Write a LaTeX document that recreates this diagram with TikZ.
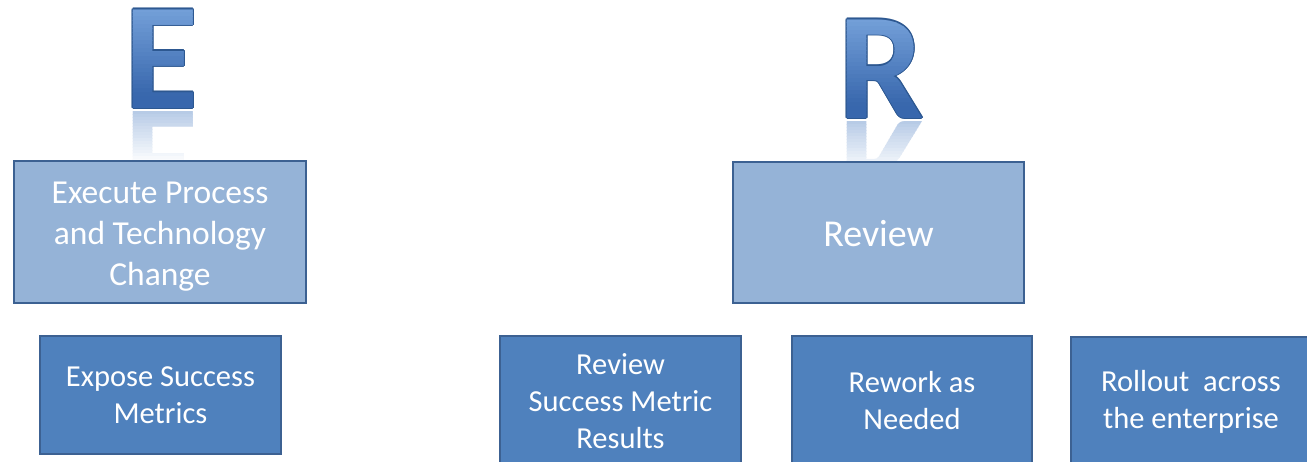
\documentclass[tikz,border=0pt]{standalone}
\usepackage{fontspec}
\setmainfont{Carlito}
\definecolor{lightbox}{HTML}{95B3D7}
\definecolor{darkbox}{HTML}{4F81BD}
\definecolor{boxline}{HTML}{3C6192}
\definecolor{lettertop}{HTML}{76A2DA}
\definecolor{letterbot}{HTML}{3867AD}
\definecolor{letteredge}{HTML}{2D5891}
\definecolor{reflcol}{HTML}{5F8CC8}
\tikzset{
  phasebox/.style={draw=boxline, line width=2.2pt, fill=lightbox, inner sep=0pt},
  phasetext/.style={text=white, align=center, inner sep=0pt},
  taskbox/.style={draw=boxline, line width=1.6pt, fill=darkbox, text=white,
    align=center, inner sep=0pt, minimum width=240pt, minimum height=130pt,
    font=\fontsize{30.5}{37}\selectfont},
  letterglyph/.style={font=\fontsize{152}{152}\bfseries\selectfont,
    inner sep=0pt, anchor=base, text height=97pt, text depth=0pt},
}
\begin{document}
\begin{tikzpicture}[x=1pt,y=-1pt]
  \useasboundingbox (0,0) rectangle (1307,461);
  \clip (0,0) rectangle (1307,461);
  \fill[white] (0,0) rectangle (1307,461);

  \foreach \ch/\cx/\base [count=\k] in {E/161.5/108, R/881/118} {
    % mirrored reflection, fading out towards the boxes
    \foreach \i in {0,...,17} {
      \pgfmathtruncatemacro\pct{max(0,45-\i*2.6)}
      \begin{scope}
        \clip (\cx-70,\base+3+\i*3) rectangle (\cx+70,\base+6.6+\i*3);
        \begin{scope}[shift={(\cx,\base+3)}, yscale=-1]
          \node[letterglyph, transform shape, text=reflcol!\pct!white] (mirror\k-\i) at (0,0) {\ch};
        \end{scope}
      \end{scope}
    }
    % thin dark rim around the letter
    \foreach \dx/\dy [count=\j] in {1.1/0, -1.1/0, 0/1.1, 0/-1.1, 0.8/0.8, -0.8/0.8, 0.8/-0.8, -0.8/-0.8} {
      \node[letterglyph, text=letteredge] (rim\k-\j) at (\cx+\dx,\base+\dy) {\ch};
    }
    % letter body with a vertical gradient built from thin bands
    \foreach \i in {0,...,26} {
      \pgfmathtruncatemacro\mix{max(0,100-\i*4.5)}
      \begin{scope}
        \clip (\cx-70,\base-104+\i*4) rectangle (\cx+70,\base-99.4+\i*4);
        \node[letterglyph, text=lettertop!\mix!letterbot] (glyph\k-\i) at (\cx,\base) {\ch};
      \end{scope}
    }
  }

  % phase boxes
  \node[phasebox, minimum width=292pt, minimum height=142pt] (execute) at (160,232) {};
  \node[phasetext, font=\fontsize{33.5}{41}\selectfont] (executetext)
        at ([yshift=-5pt]execute.center) {Execute Process\\and Technology\\Change};
  \node[phasebox, minimum width=291pt, minimum height=141pt] (review) at (878.5,232.5) {};
  \node[phasetext, font=\fontsize{38}{46}\selectfont] (reviewtext)
        at ([yshift=-1pt]review.center) {Review};

  % task boxes
  \node[taskbox, minimum width=241pt, minimum height=118pt] (expose) at (160.5,395)
        {Expose Success\\Metrics};
  \node[taskbox, minimum width=241pt] (results) at (620.5,401)
        {Review\\Success Metric\\Results};
  \node[taskbox] (rework) at (912,401) {Rework as\\Needed};
  \node[taskbox] (rollout) at (1191,402) {Rollout\ \ across\\the enterprise};
\end{tikzpicture}
\end{document}
